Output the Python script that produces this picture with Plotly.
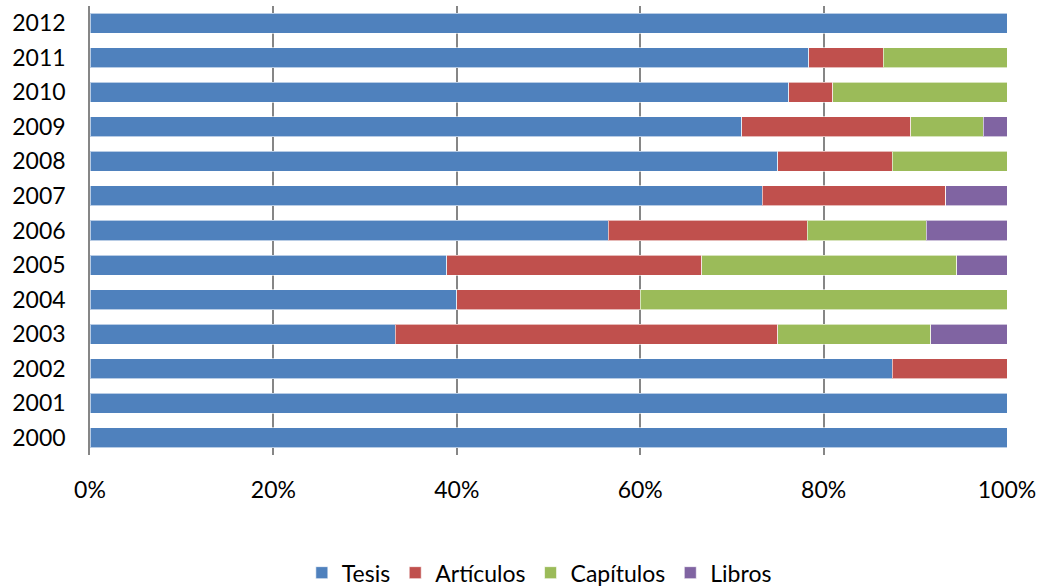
import plotly.graph_objects as go

# años (de abajo hacia arriba) y porcentaje de cada tipo de publicación
years = ["2000", "2001", "2002", "2003", "2004", "2005", "2006",
         "2007", "2008", "2009", "2010", "2011", "2012"]

tesis      = [100, 100, 87.5, 33.3, 40, 38.9, 56.5, 73.3, 75.0, 71.1, 76.2, 78.4, 100]
articulos  = [0,   0,   12.5, 41.7, 20, 27.8, 21.7, 20.0, 12.5, 18.4, 4.8,  8.1,  0]
capitulos  = [0,   0,   0,    16.7, 40, 27.8, 13.0, 0,    12.5, 7.9,  19.0, 13.5, 0]
libros     = [0,   0,   0,    8.3,  0,  5.5,  8.8,  6.7,  0,    2.6,  0,    0,    0]

series = [
    ("Tesis", tesis, "#4F81BD"),
    ("Artículos", articulos, "#C0504D"),
    ("Capítulos", capitulos, "#9BBB59"),
    ("Libros", libros, "#8064A2"),
]

fig = go.Figure()

for name, vals, color in series:
    fig.add_trace(go.Bar(
        y=years,
        x=vals,
        name=name,
        orientation="h",
        marker=dict(color=color, line=dict(color="rgba(255,255,255,0.6)", width=1)),
    ))

fig.update_layout(
    barmode="stack",
    bargap=0.42,
    width=1041,
    height=588,
    margin=dict(l=90, r=34, t=6, b=133),
    plot_bgcolor="white",
    paper_bgcolor="white",
    font=dict(family="Lato", size=23, color="black"),
    xaxis=dict(
        range=[0, 100],
        tickvals=[0, 20, 40, 60, 80, 100],
        ticktext=["0%", "20%", "40%", "60%", "80%", "100%"],
        showgrid=True, gridcolor="#868686", gridwidth=1.5,
        zeroline=False, automargin=False,
        ticks="", ticklabelstandoff=19,
    ),
    yaxis=dict(
        type="category",
        showgrid=False, automargin=False,
        showline=True, linecolor="#868686", linewidth=1.5,
        ticks="", ticklabelstandoff=18,
    ),
    legend=dict(
        orientation="h",
        x=0.49, xanchor="center",
        yref="container", y=0.026, yanchor="middle",
        font=dict(size=23),
        itemwidth=30,
        traceorder="normal",
    ),
)

# sin margen del body para que la figura quede en (0, 0)
fig.write_html("out.html", config={"displayModeBar": False},
               post_script="document.body.style.margin='0';")
